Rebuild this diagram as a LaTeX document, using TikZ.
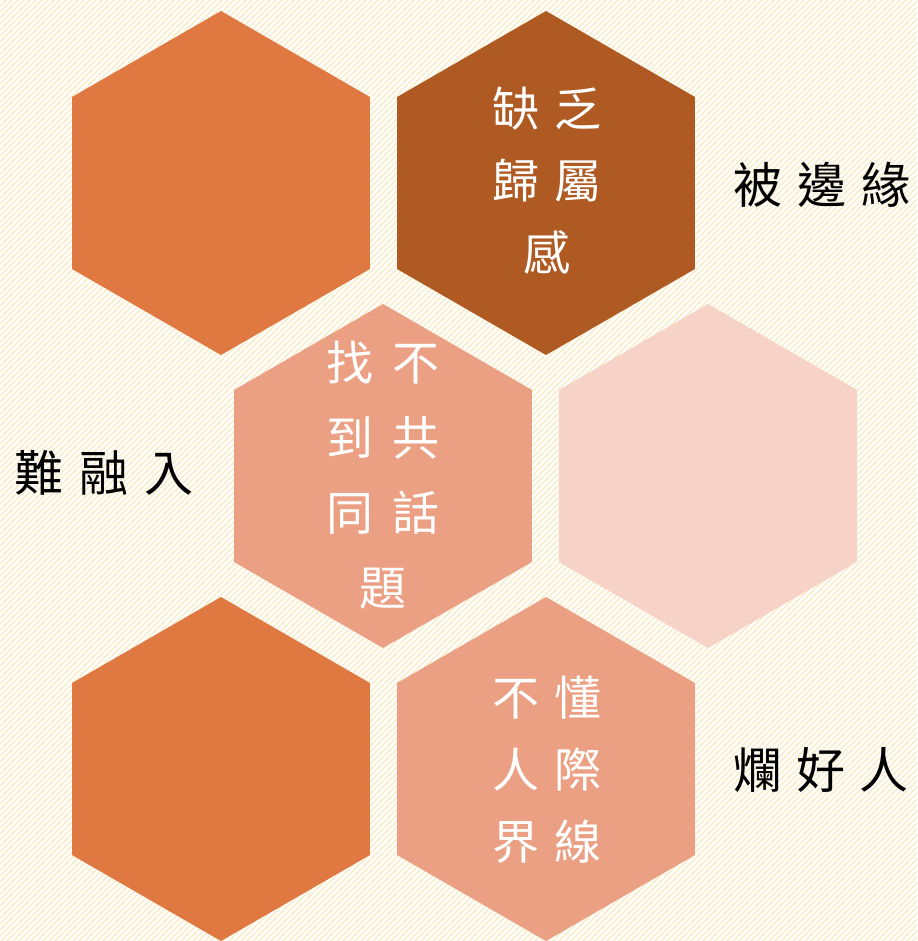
\documentclass[tikz,border=0pt]{standalone}
\usepackage{fontspec}
\newfontfamily\cjk{Noto Sans CJK TC}
\usetikzlibrary{shapes.geometric}
\definecolor{orangeA}{HTML}{DF7841}
\definecolor{brownA}{HTML}{AF5A22}
\definecolor{salmonA}{HTML}{EBA083}
\definecolor{pinkA}{HTML}{F6D3C6}
\definecolor{stripeA}{HTML}{F9EDCC}
\begin{document}
\begin{tikzpicture}[x=1pt,y=-1pt,
  hexa/.style={regular polygon, regular polygon sides=6, shape border rotate=30,
    minimum size=344pt, inner sep=0pt, draw=none},
  whitetxt/.style={text=white, align=center, inner sep=0pt,
    font=\cjk\fontsize{47}{72}\selectfont},
  blacktxt/.style={text=black, inner sep=0pt, font=\cjk\fontsize{49}{56}\selectfont}]
\useasboundingbox (0,0) rectangle (917,941);
\fill[white] (0,0) rectangle (917,941);
\begin{scope}
\clip (0,0) rectangle (917,941);
\foreach \c in {-948,-942,...,924}{
  \draw[stripeA, line width=1.6pt] (\c,948) -- (\c+955,-7);
}
\end{scope}
% hexagons
\node[hexa, fill=orangeA] (h1) at (221,183) {};
\node[hexa, fill=brownA] (h2) at (546,183) {};
\node[hexa, fill=salmonA] (h3) at (383,476) {};
\node[hexa, fill=pinkA] (h4) at (708,476) {};
\node[hexa, fill=orangeA] (h5) at (221,769) {};
\node[hexa, fill=salmonA] (h6) at (546,769) {};
% texts in hexagons
\node[whitetxt] (t2) at (547,181) {缺\hspace{15pt}乏\\歸\hspace{15pt}屬\\感};
\node[whitetxt, font=\cjk\fontsize{47}{75}\selectfont] (t3) at (383,475) {找\hspace{20pt}不\\到\hspace{20pt}共\\同\hspace{20pt}話\\題};
\node[whitetxt] (t6) at (547,770) {不\hspace{15pt}懂\\人\hspace{15pt}際\\界\hspace{15pt}線};
% side labels
\node[blacktxt] (l1) at (822,185) {被\hspace{15pt}邊\hspace{15pt}緣};
\node[blacktxt] (l2) at (104,473) {難\hspace{16pt}融\hspace{16pt}入};
\node[blacktxt] (l3) at (821,770) {爛\hspace{14pt}好\hspace{14pt}人};
\end{tikzpicture}
\end{document}
